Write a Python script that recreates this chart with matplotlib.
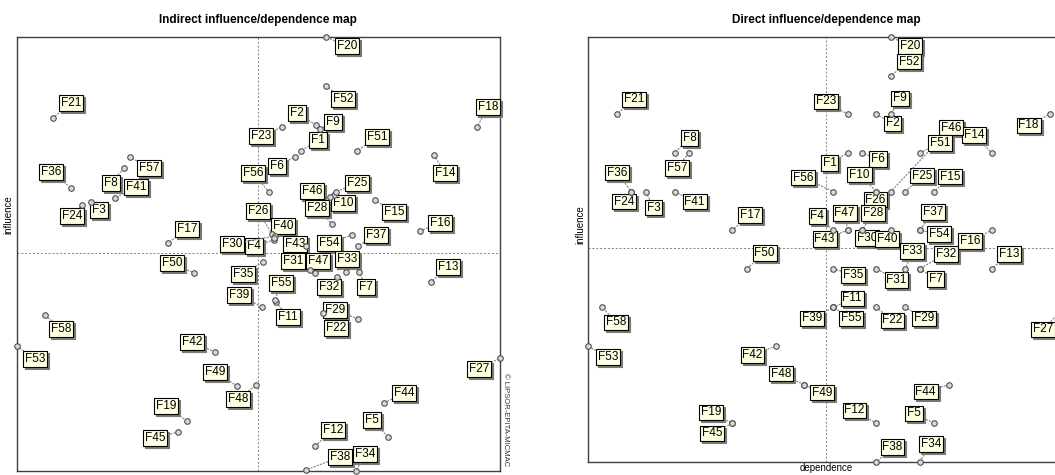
import matplotlib
matplotlib.use('Agg')
import matplotlib.pyplot as plt

plt.rcParams['font.family'] = ['Liberation Sans', 'DejaVu Sans']

# variables F1..F58
names = [f'F{i}' for i in range(1, 59)]

# indirect map (arbitrary units)
indirect_dependence = [284, 299, 74, 257, 371, 278, 342, 107, 303, 317,
                       259, 298, 414, 417, 358, 403, 151, 460, 170, 309,
                       36, 306, 265, 65, 319, 255, 483, 315, 341, 258,
                       293, 320, 329, 339, 246, 54, 341, 289, 245, 257,
                       98, 198, 289, 367, 161, 313, 298, 239, 220, 177,
                       340, 309, 0, 335, 258, 252, 113, 28]
indirect_influence = [320, 346, 269, 231, 34, 314, 199, 303, 342, 276,
                      169, 25, 189, 316, 271, 240, 228, 344, 50, 434,
                      353, 158, 344, 266, 279, 237, 113, 247, 152, 235,
                      201, 194, 199, 0, 209, 283, 225, 1, 164, 233,
                      273, 119, 225, 68, 39, 274, 198, 86, 85, 198,
                      320, 385, 125, 236, 171, 279, 314, 156]
indirect_mean = (241, 218)

# direct map
direct_dependence = [18, 20, 4, 17, 24, 19, 23, 6, 21, 20,
                     17, 20, 28, 28, 24, 28, 10, 32, 10, 21,
                     2, 20, 18, 3, 22, 20, 33, 19, 22, 19,
                     20, 23, 22, 23, 17, 3, 23, 20, 17, 21,
                     6, 13, 18, 25, 10, 21, 18, 15, 15, 11,
                     23, 21, 0, 23, 17, 17, 7, 1]
direct_influence = [8, 9, 7, 6, 1, 8, 5, 8, 9, 7,
                    4, 1, 5, 8, 7, 6, 6, 9, 1, 11,
                    9, 4, 9, 7, 7, 7, 4, 6, 4, 6,
                    5, 5, 5, 0, 5, 7, 6, 0, 4, 6,
                    7, 3, 6, 2, 1, 7, 6, 2, 2, 5,
                    8, 10, 3, 6, 4, 7, 8, 4]
direct_mean = (16.5, 5.54)

# label offsets in pixels (dx right, dy up)
indirect_offsets = [(17, 11), (-19, 12), (8, -8), (-20, -6), (-16, 17), (-18, -9), (7, -15), (-13, -15), (13, 7), (9, -8),
                    (12, -15), (18, 16), (17, 15), (11, -18), (19, -12), (20, 8), (19, 14), (11, 20), (-21, 15), (21, -9),
                    (18, 15), (13, -15), (-21, -9), (-10, -11), (21, 9), (-14, 23), (-21, -11), (-15, 16), (-23, 9), (-43, -8),
                    (-17, 9), (-8, -10), (1, 13), (9, 17), (-20, -12), (-20, 16), (18, 11), (34, 13), (-23, 12), (9, 12),
                    (21, 11), (-23, 10), (-11, 2), (20, 10), (-23, -6), (-18, 6), (3, 12), (-18, -14), (-22, 14), (-22, 10),
                    (20, 14), (17, -13), (18, -13), (-23, -8), (6, 17), (-16, 19), (19, -11), (16, -14)]
direct_offsets = [(-18, -10), (16, -9), (8, -16), (-16, 14), (-20, 10), (16, -6), (16, -10), (15, 15), (9, 16), (-17, 17),
                  (19, 9), (-22, 13), (17, 15), (-18, 18), (16, 15), (-22, -11), (18, 15), (-21, -11), (-21, 11), (19, -9),
                  (17, 15), (16, -13), (-22, 13), (-7, -10), (17, 16), (-1, -8), (-21, -22), (11, 17), (19, -11), (5, -8),
                  (20, -11), (26, 15), (7, 18), (11, 18), (20, -6), (-14, 19), (13, 18), (16, 15), (-21, -11), (-4, -9),
                  (20, -10), (-23, -9), (-23, -9), (-23, -7), (-20, -10), (60, 64), (-3, 17), (-23, 11), (18, -8), (18, 16),
                  (20, 10), (18, 14), (20, -11), (19, -4), (18, -11), (-30, 14), (-12, -15), (14, -15)]


def draw_map(ax, dep, inf, offsets, mean, xmax, ymax):
    ax.set_xlim(0, xmax)
    ax.set_ylim(0, ymax)
    ax.set_xticks([])
    ax.set_yticks([])
    for s in ax.spines.values():
        s.set_color('#404040')
        s.set_linewidth(1.0)
    ax.axvline(mean[0], color='#808080', ls=(0, (2, 2)), lw=0.7, zorder=1)
    ax.axhline(mean[1], color='#808080', ls=(0, (2, 2)), lw=0.7, zorder=1)
    for name, x, y, (dx, dy) in zip(names, dep, inf, offsets):
        # shadow
        ax.annotate(name, (x, y), xytext=(dx + 2, dy - 2), textcoords='offset pixels',
                    ha='center', va='center', fontsize=8.5, color='#7a7a7a',
                    bbox=dict(boxstyle='square,pad=0.15', fc='#7a7a7a', ec='#7a7a7a', lw=0.8),
                    zorder=3, annotation_clip=False)
        ax.annotate(name, (x, y), xytext=(dx, dy), textcoords='offset pixels',
                    ha='center', va='center', fontsize=8.5, color='black',
                    bbox=dict(boxstyle='square,pad=0.15', fc='#ffffe3', ec='black', lw=0.8),
                    arrowprops=dict(arrowstyle='-', color='#8a8a8a', ls=':', lw=0.9,
                                    shrinkA=0, shrinkB=2),
                    zorder=4, annotation_clip=False)
    ax.plot(dep, inf, 'o', ms=4, mfc='#d8d8d8', mec='#505050', mew=0.8,
            ls='none', zorder=5, clip_on=False)


fig = plt.figure(figsize=(10.55, 4.75), dpi=100)
W, H = 1055, 475

ax1 = fig.add_axes([17 / W, (H - 471) / H, 483 / W, 434 / H])
draw_map(ax1, indirect_dependence, indirect_influence, indirect_offsets, indirect_mean, 483, 434)

ax2 = fig.add_axes([588 / W, (H - 462) / H, 476 / W, 425 / H])
draw_map(ax2, direct_dependence, direct_influence, direct_offsets, direct_mean, 33, 11)

fig.text(258 / W, 1 - 20 / H, 'Indirect influence/dependence map', ha='center', va='center',
         fontsize=8.5, fontweight='bold')
fig.text(826 / W, 1 - 20 / H, 'Direct influence/dependence map', ha='center', va='center',
         fontsize=8.5, fontweight='bold')
fig.text(8 / W, 1 - 215 / H, 'influence', rotation=90, ha='center', va='center', fontsize=7)
fig.text(580 / W, 1 - 225 / H, 'influence', rotation=90, ha='center', va='center', fontsize=7)
fig.text(826 / W, 1 - 468 / H, 'dependence', ha='center', va='center', fontsize=7)
fig.text(506 / W, 1 - 420 / H, '© LIPSOR-EPITA-MICMAC', rotation=-90, ha='center', va='center',
         fontsize=5.5, color='#333333')

fig.savefig('out.png', dpi=100)
plt.close(fig)
